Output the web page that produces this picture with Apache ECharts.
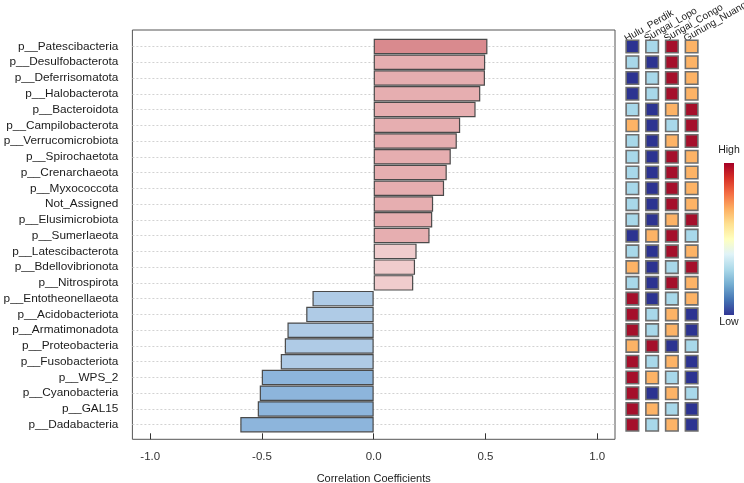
<!DOCTYPE html>
<html><head><meta charset="utf-8">
<script src="https://cdn.jsdelivr.net/npm/echarts@6/dist/echarts.min.js"></script>
<style>html,body{margin:0;padding:0;background:#fff}#c{width:744px;height:483px}</style>
</head><body><div id="c"></div>
<script>
const categories = ['p__Patescibacteria','p__Desulfobacterota','p__Deferrisomatota','p__Halobacterota','p__Bacteroidota','p__Campilobacterota','p__Verrucomicrobiota','p__Spirochaetota','p__Crenarchaeota','p__Myxococcota','Not_Assigned','p__Elusimicrobiota','p__Sumerlaeota','p__Latescibacterota','p__Bdellovibrionota','p__Nitrospirota','p__Entotheonellaeota','p__Acidobacteriota','p__Armatimonadota','p__Proteobacteria','p__Fusobacteriota','p__WPS_2','p__Cyanobacteria','p__GAL15','p__Dadabacteria'];
const correlations = [0.509,0.499,0.498,0.477,0.456,0.387,0.372,0.345,0.327,0.315,0.266,0.262,0.250,0.192,0.185,0.177,-0.274,-0.302,-0.386,-0.398,-0.416,-0.501,-0.510,-0.519,-0.597];
const sites = ['Hulu_Perdik','Sungai_Lopo','Sungai_Congo','Gunung_Nuang'];
const Hulu_Perdik  = [1,2,1,1,2,3,2,2,2,2,2,2,1,2,3,2,4,4,4,3,4,4,4,4,4];
const Sungai_Lopo  = [2,1,2,2,1,1,1,1,1,1,1,1,3,1,1,1,1,2,2,4,2,3,1,3,2];
const Sungai_Congo = [4,4,4,4,3,2,3,4,4,4,4,3,4,4,2,4,2,3,3,1,3,2,3,2,3];
const Gunung_Nuang = [3,3,3,3,4,4,4,3,3,3,3,4,2,3,4,3,3,1,1,2,1,1,2,1,1];
const xTicks = [-1, -0.5, 0, 0.5, 1];
const legendLabels = ['High', 'Low'];

const FONT = 'Liberation Sans, Arial, sans-serif';
const siteCols = [Hulu_Perdik, Sungai_Lopo, Sungai_Congo, Gunung_Nuang];
const rankColor = {1:'#2c3391', 2:'#a8d8ea', 3:'#fdb366', 4:'#a50f2b'};
const rdylbu = ['#a50026','#d73027','#f46d43','#fdae61','#fee090','#ffffbf','#e0f3f8','#abd9e9','#74add1','#4575b4','#313695'];
function barColor(v){
  if (v > 0.5) return '#d98a8e';
  if (v >= 0.2) return '#e6aeb0';
  if (v >= 0) return '#f0cccd';
  if (v > -0.5) return '#afcbe6';
  return '#8db5dc';
}
const heatData = [];
siteCols.forEach((col, j) => col.forEach((v, i) => heatData.push({value:[j, i, v], itemStyle:{color:rankColor[v]}})));

const L = 132.4, W = 482.6;
const rowTop = 38.6, rowH = 394;
const G = {outerBoundsMode: 'none', containLabel: false};
const chart = echarts.init(document.getElementById('c'));
chart.setOption({
  animation: false,
  textStyle: {fontFamily: FONT},
  grid: [
    Object.assign({left: L, top: 30, width: W, height: 409.3, show: true, borderColor: '#555', borderWidth: 1, backgroundColor: 'transparent'}, G),
    Object.assign({left: L, top: rowTop, width: W, height: rowH}, G),
    Object.assign({left: L, top: rowTop + rowH/50, width: W, height: rowH*24/25}, G),
    Object.assign({left: 622.5, top: rowTop, width: 79, height: rowH}, G)
  ],
  xAxis: [
    {gridIndex: 0, type: 'value', min: 0, max: 1, show: false},
    {gridIndex: 1, type: 'value', min: -1.08, max: 1.08, position: 'bottom', offset: 0.7,
      axisLine: {show: false}, splitLine: {show: false},
      axisTick: {show: true, length: 6, lineStyle: {color: '#333'}, customValues: xTicks},
      axisLabel: {customValues: xTicks, color: '#333', fontSize: 11.5, margin: 18, formatter: v => v.toFixed(1)},
      name: 'Correlation Coefficients', nameLocation: 'middle', nameGap: 40,
      nameTextStyle: {color: '#222', fontSize: 11}},
    {gridIndex: 2, type: 'value', min: 0, max: 1, show: false},
    {gridIndex: 3, type: 'category', data: sites, position: 'top',
      axisLine: {show: false}, axisTick: {show: false}, splitLine: {show: false},
      axisLabel: {rotate: -30, fontSize: 10, color: '#222', margin: 3, interval: 0, padding: [0, 0, 0, -8]}}
  ],
  yAxis: [
    {gridIndex: 0, type: 'value', min: 0, max: 1, show: false},
    {gridIndex: 1, type: 'category', data: categories, inverse: true,
      axisLine: {show: false}, axisTick: {show: false}, splitLine: {show: false},
      axisLabel: {color: '#1a1a1a', fontSize: 11.8, margin: 14, interval: 0}},
    {gridIndex: 2, type: 'category', data: categories, inverse: true, boundaryGap: false,
      axisLine: {show: false}, axisTick: {show: false}, axisLabel: {show: false},
      splitLine: {show: true, interval: 0, lineStyle: {color: '#d2d2d2', type: [2, 2], width: 1}}},
    {gridIndex: 3, type: 'category', data: categories, inverse: true, show: false}
  ],
  graphic: [
    {type: 'rect', left: 724, top: 163, shape: {width: 10, height: 152},
      style: {fill: new echarts.graphic.LinearGradient(0, 0, 0, 1, rdylbu.map((c, i) => ({offset: i/(rdylbu.length-1), color: c})))}},
    {type: 'text', x: 729, y: 150, style: {text: legendLabels[0], fill: '#222', font: '10.5px ' + FONT, textAlign: 'center', textVerticalAlign: 'middle'}},
    {type: 'text', x: 729, y: 322, style: {text: legendLabels[1], fill: '#222', font: '10.5px ' + FONT, textAlign: 'center', textVerticalAlign: 'middle'}}
  ],
  series: [
    {type: 'bar', xAxisIndex: 1, yAxisIndex: 1, barCategoryGap: '2%',
      data: correlations.map(v => ({value: v, itemStyle: {color: barColor(v)}})),
      itemStyle: {borderColor: '#4a4a4a', borderWidth: 1.2}},
    {type: 'scatter', xAxisIndex: 3, yAxisIndex: 3, symbol: 'rect', symbolSize: 12.5,
      data: heatData, itemStyle: {borderColor: '#6e6e6e', borderWidth: 1.6, opacity: 1}}
  ]
});
</script></body></html>
